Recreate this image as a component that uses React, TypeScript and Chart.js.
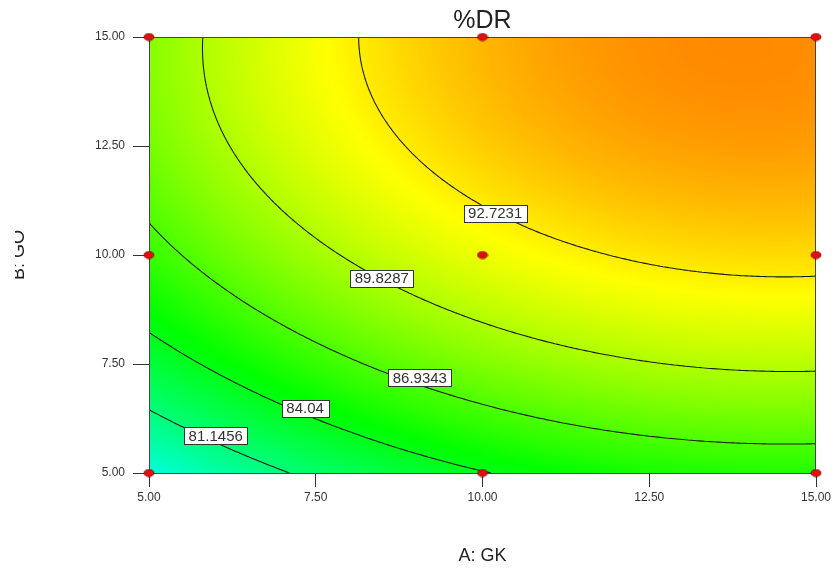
import React, { useEffect, useRef } from 'react';
import { Chart, registerables } from 'chart.js';

Chart.register(...registerables);

// ---- data ----
const gkLevels = [5, 10, 15]; // A: GK design levels
const goLevels = [5, 10, 15]; // B: GO design levels
// %DR response at the design grid (rows = GO level, cols = GK level)
const drAtGO5 = [78.25, 83.95, 85.6];
const drAtGO10 = [86.23, 91.68, 93.23];
const drAtGO15 = [88.6, 94.32, 95.52];
const contourLevels = [81.1456, 84.04, 86.9343, 89.8287, 92.7231];
// contour label anchors (GK, GO)
const contourLabelGK = [6.0, 7.34, 9.06, 8.49, 10.19];
const contourLabelGO = [5.85, 6.49, 7.18, 9.47, 10.96];
const axisTicks = [5, 7.5, 10, 12.5, 15];
const designGK = [5, 5, 5, 10, 10, 10, 15, 15, 15];
const designGO = [5, 10, 15, 5, 10, 15, 5, 10, 15];
const colorRange = [69.7, 99.7];

const drGrid = [drAtGO5, drAtGO10, drAtGO15];
const FONT = '"Liberation Sans", Arial, sans-serif';

function lagrange3(x: number, n: number[]): number[] {
  const [x0, x1, x2] = n;
  return [
    ((x - x1) * (x - x2)) / ((x0 - x1) * (x0 - x2)),
    ((x - x0) * (x - x2)) / ((x1 - x0) * (x1 - x2)),
    ((x - x0) * (x - x1)) / ((x2 - x0) * (x2 - x1)),
  ];
}

function surface(a: number, b: number): number {
  const la = lagrange3(a, gkLevels);
  const lb = lagrange3(b, goLevels);
  let s = 0;
  for (let i = 0; i < 3; i++) for (let j = 0; j < 3; j++) s += lb[i] * la[j] * drGrid[i][j];
  return s;
}

const stops: [number, number, number, number][] = [
  [0, 0, 0, 255],
  [0.25, 0, 255, 255],
  [0.5, 0, 255, 0],
  [0.75, 255, 255, 0],
  [1, 255, 0, 0],
];
function colorFor(z: number): [number, number, number] {
  let f = (z - colorRange[0]) / (colorRange[1] - colorRange[0]);
  f = Math.max(0, Math.min(1, f));
  for (let k = 0; k < stops.length - 1; k++) {
    const s0 = stops[k], s1 = stops[k + 1];
    if (f <= s1[0]) {
      const t = (f - s0[0]) / (s1[0] - s0[0]);
      return [s0[1] + (s1[1] - s0[1]) * t, s0[2] + (s1[2] - s0[2]) * t, s0[3] + (s1[3] - s0[3]) * t];
    }
  }
  return [255, 0, 0];
}

function makePointImage(): HTMLCanvasElement {
  const c = document.createElement('canvas');
  c.width = 12;
  c.height = 9;
  const g = c.getContext('2d')!;
  g.beginPath();
  g.ellipse(6, 4.5, 5, 3.6, 0, 0, Math.PI * 2);
  g.fillStyle = '#e01010';
  g.fill();
  g.lineWidth = 0.8;
  g.strokeStyle = '#8a0000';
  g.stroke();
  return c;
}

const surfacePlugin = {
  id: 'contourSurface',
  beforeDatasetsDraw(chart: any) {
    const { ctx, chartArea } = chart;
    const xs = chart.scales.x, ys = chart.scales.y;
    const left = Math.round(chartArea.left), top = Math.round(chartArea.top);
    const w = Math.round(chartArea.right) - left, h = Math.round(chartArea.bottom) - top;
    // colour field
    const off = document.createElement('canvas');
    off.width = w;
    off.height = h;
    const octx = off.getContext('2d')!;
    const img = octx.createImageData(w, h);
    for (let j = 0; j < h; j++) {
      const b = ys.getValueForPixel(top + j + 0.5);
      for (let i = 0; i < w; i++) {
        const a = xs.getValueForPixel(left + i + 0.5);
        const c = colorFor(surface(a, b));
        const p = (j * w + i) * 4;
        img.data[p] = c[0];
        img.data[p + 1] = c[1];
        img.data[p + 2] = c[2];
        img.data[p + 3] = 255;
      }
    }
    octx.putImageData(img, 0, 0);
    ctx.save();
    ctx.drawImage(off, left, top);

    // contour lines (marching squares)
    const N = 240;
    const amin = xs.min, amax = xs.max, bmin = ys.min, bmax = ys.max;
    const Z: number[][] = [];
    for (let r = 0; r <= N; r++) {
      const row: number[] = [];
      const b = bmin + ((bmax - bmin) * r) / N;
      for (let q = 0; q <= N; q++) row.push(surface(amin + ((amax - amin) * q) / N, b));
      Z.push(row);
    }
    const A = (q: number) => amin + ((amax - amin) * q) / N;
    const B = (r: number) => bmin + ((bmax - bmin) * r) / N;
    ctx.beginPath();
    ctx.rect(left, top, w, h);
    ctx.clip();
    ctx.strokeStyle = '#1a1a1a';
    ctx.lineWidth = 1.1;
    ctx.lineJoin = 'round';
    for (const lev of contourLevels) {
      ctx.beginPath();
      for (let r = 0; r < N; r++) {
        for (let q = 0; q < N; q++) {
          const z00 = Z[r][q], z10 = Z[r][q + 1], z01 = Z[r + 1][q], z11 = Z[r + 1][q + 1];
          const pts: [number, number][] = [];
          const edge = (za: number, zb: number, pa: [number, number], pb: [number, number]) => {
            if ((za < lev) !== (zb < lev)) {
              const t = (lev - za) / (zb - za);
              pts.push([pa[0] + (pb[0] - pa[0]) * t, pa[1] + (pb[1] - pa[1]) * t]);
            }
          };
          edge(z00, z10, [q, r], [q + 1, r]);
          edge(z10, z11, [q + 1, r], [q + 1, r + 1]);
          edge(z11, z01, [q + 1, r + 1], [q, r + 1]);
          edge(z01, z00, [q, r + 1], [q, r]);
          for (let k = 0; k + 1 < pts.length; k += 2) {
            ctx.moveTo(xs.getPixelForValue(A(pts[k][0])), ys.getPixelForValue(B(pts[k][1])));
            ctx.lineTo(xs.getPixelForValue(A(pts[k + 1][0])), ys.getPixelForValue(B(pts[k + 1][1])));
          }
        }
      }
      ctx.stroke();
    }
    ctx.restore();

    // contour labels
    ctx.save();
    ctx.font = '15px ' + FONT;
    ctx.textAlign = 'center';
    ctx.textBaseline = 'middle';
    contourLevels.forEach((lev, k) => {
      const px = xs.getPixelForValue(contourLabelGK[k]);
      const py = ys.getPixelForValue(contourLabelGO[k]);
      const txt = String(lev);
      const tw = ctx.measureText(txt).width;
      const bw = Math.round(tw + 9), bh = 17;
      const bx = Math.round(px - bw / 2) + 0.5, by = Math.round(py - bh / 2) + 0.5;
      ctx.fillStyle = '#ffffff';
      ctx.fillRect(bx, by, bw, bh);
      ctx.strokeStyle = '#333333';
      ctx.lineWidth = 1;
      ctx.strokeRect(bx, by, bw, bh);
      ctx.fillStyle = '#333333';
      ctx.fillText(txt, px, py + 1);
    });
    // frame
    ctx.strokeStyle = '#444444';
    ctx.lineWidth = 1;
    ctx.strokeRect(left + 0.5, top + 0.5, w - 1, h);
    ctx.restore();
  },
  afterDraw(chart: any) {
    const { ctx, chartArea } = chart;
    const cx = (chartArea.left + chartArea.right) / 2;
    ctx.save();
    ctx.fillStyle = '#222222';
    ctx.textAlign = 'center';
    ctx.textBaseline = 'alphabetic';
    ctx.font = '25px ' + FONT;
    ctx.fillText('%DR', cx, 28);
    ctx.font = '18px ' + FONT;
    ctx.textBaseline = 'middle';
    ctx.fillText('A: GK', cx, 556);
    // rotated y title (left part cropped as in the original image)
    ctx.save();
    ctx.beginPath();
    ctx.rect(15, 0, 200, chart.height);
    ctx.clip();
    ctx.translate(24, (chartArea.top + chartArea.bottom) / 2);
    ctx.rotate(-Math.PI / 2);
    ctx.textBaseline = 'alphabetic';
    ctx.fillText('B: GO', 0, 0);
    ctx.restore();
    ctx.restore();
  },
};

export default function App() {
  const ref = useRef<HTMLCanvasElement>(null);
  useEffect(() => {
    if (!ref.current) return;
    const pointImg = makePointImage();
    const tickFont = { family: FONT, size: 12 };
    const chart = new Chart(ref.current, {
      type: 'scatter',
      data: {
        datasets: [
          {
            label: 'Design points',
            data: designGK.map((a, i) => ({ x: a, y: designGO[i] })),
            pointStyle: pointImg as any,
            pointRadius: 5,
            clip: false as any,
          },
        ],
      },
      options: {
        animation: false,
        responsive: true,
        maintainAspectRatio: false,
        layout: { padding: { top: 37, right: 22, left: 0, bottom: 0 } },
        plugins: { legend: { display: false }, title: { display: false }, tooltip: { enabled: false } },
        events: [],
        scales: {
          x: {
            type: 'linear',
            min: 5,
            max: 15,
            afterBuildTicks: (s: any) => {
              s.ticks = axisTicks.map((v) => ({ value: v }));
            },
            afterFit: (s: any) => {
              s.height = 96;
            },
            ticks: { callback: (v: any) => Number(v).toFixed(2), font: tickFont, color: '#333', padding: 3, maxRotation: 0, autoSkip: false },
            grid: { drawOnChartArea: false, drawTicks: true, tickLength: 14, color: '#333' },
            border: { display: false },
          },
          y: {
            type: 'linear',
            min: 5,
            max: 15,
            afterBuildTicks: (s: any) => {
              s.ticks = axisTicks.map((v) => ({ value: v }));
            },
            afterFit: (s: any) => {
              s.width = 149;
            },
            ticks: { callback: (v: any) => Number(v).toFixed(2), font: tickFont, color: '#333', padding: 8, autoSkip: false },
            grid: { drawOnChartArea: false, drawTicks: true, tickLength: 16, color: '#333' },
            border: { display: false },
          },
        },
      },
      plugins: [surfacePlugin],
    });
    return () => chart.destroy();
  }, []);
  return (
    <div style={{ position: 'fixed', left: 0, top: 0, width: 838, height: 569, background: '#fff' }}>
      <canvas ref={ref} />
    </div>
  );
}
